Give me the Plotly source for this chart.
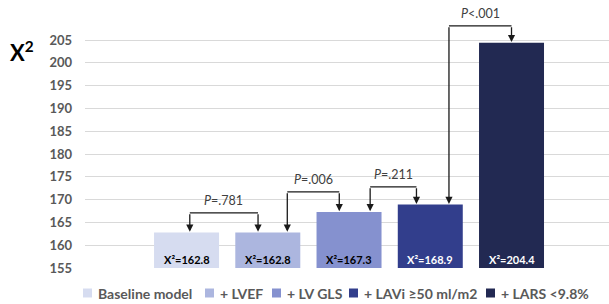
import plotly.graph_objects as go

# ---------------- data ----------------
categories = ["Baseline model", "+ LVEF", "+ LV GLS", "+ LAVi ≥50 ml/m2", "+ LARS <9.8%"]
chi2_values = [162.8, 162.8, 167.3, 168.9, 204.4]
y_ticks = [155, 160, 165, 170, 175, 180, 185, 190, 195, 200, 205]
# comparisons: (from bar index, to bar index, p-value label)
comp_from = [0, 1, 2, 3]
comp_to = [1, 2, 3, 4]
comp_labels = ["<i>P</i>=.781", "<i>P</i>=.006", "<i>P</i>=.211", "<i>P</i><.001"]

# ---------------- style ----------------
bar_colors = ["#d6dcf0", "#acb6df", "#8591cf", "#323e8c", "#222952"]
label_colors = ["#000000", "#000000", "#000000", "#ffffff", "#ffffff"]
FONT = "Lato, 'Open Sans', sans-serif"
GRAY = "#595959"

# bracket geometry (offsets relative to bar centres, bracket heights in y units)
from_off = [0.04, 0.24, 0.26, 0.23]
to_off = [-0.12, -0.12, -0.17, 0.0]
bracket_level = [167.1, 171.7, 172.8, 208.1]

# legend positions (pixels in the 609x304 canvas)
leg_px = [83, 205, 272, 349, 486]
leg_py = 293

W, H = 609, 304
ML, MR, MT, MB = 85, 0, 0, 36
pw, ph = W - ML - MR, H - MT - MB

def px2paper_x(px):
    return (px - ML) / pw

def py2paper_y(py):
    return (H - MB - py) / ph

xpos = list(range(len(categories)))
ymin = 155

fig = go.Figure()
for i, cat in enumerate(categories):
    fig.add_trace(go.Bar(
        x=[xpos[i]], y=[chi2_values[i]], name=cat,
        marker=dict(color=bar_colors[i], line=dict(width=0)),
        width=0.8,
        showlegend=False,
        hovertemplate=cat + ": χ²=%{y:.1f}<extra></extra>",
    ))

shapes = []
annotations = []

# value labels at the bottom of each bar
for i, v in enumerate(chi2_values):
    annotations.append(dict(
        x=xpos[i], y=ymin, xref="x", yref="y", yanchor="bottom", yshift=0,
        text=f"X²={v:.1f}", showarrow=False,
        font=dict(family=FONT, size=11, color=label_colors[i], weight="bold")))

for k in range(len(comp_from)):
    a, b = comp_from[k], comp_to[k]
    xa = xpos[a] + from_off[k]
    xb = xpos[b] + to_off[k]
    lvl = bracket_level[k]
    shapes.append(dict(type="line", xref="x", yref="y", x0=xa, x1=xb, y0=lvl, y1=lvl,
                       line=dict(color="#1a1a1a", width=1.3)))
    for xx, top in [(xa, chi2_values[a]), (xb, chi2_values[b])]:
        annotations.append(dict(
            x=xx, y=top + 0.15, ax=xx, ay=lvl, xref="x", yref="y", axref="x", ayref="y",
            showarrow=True, arrowhead=2, arrowsize=1.1, arrowwidth=1.3,
            arrowcolor="#1a1a1a", standoff=0, text=""))
    annotations.append(dict(
        x=(xa + xb) / 2, y=lvl, xref="x", yref="y", yanchor="bottom", yshift=3,
        text=comp_labels[k], showarrow=False,
        font=dict(family=FONT, size=12.5, color="#404040")))

# axis title
annotations.append(dict(
    x=px2paper_x(8), y=py2paper_y(51), xref="paper", yref="paper",
    xanchor="left", yanchor="middle", showarrow=False,
    text="<b>X<sup>2</sup></b>", font=dict(family=FONT, size=22, color="#000000")))

# legend (manual, Excel-like)
for i, cat in enumerate(categories):
    shapes.append(dict(type="rect", xref="paper", yref="paper",
                       x0=px2paper_x(leg_px[i]), x1=px2paper_x(leg_px[i] + 9),
                       y0=py2paper_y(leg_py + 4.5), y1=py2paper_y(leg_py - 4.5),
                       fillcolor=bar_colors[i], line=dict(width=0)))
    annotations.append(dict(
        x=px2paper_x(leg_px[i] + 13), y=py2paper_y(leg_py), xref="paper", yref="paper",
        xanchor="left", yanchor="middle", showarrow=False, text=cat,
        font=dict(family=FONT, size=14, color=GRAY, weight="bold")))

yrange_top = ymin + (H - MB - MT) / 4.56

fig.update_layout(
    width=W, height=H,
    margin=dict(l=ML, r=MR, t=MT, b=MB),
    paper_bgcolor="white", plot_bgcolor="white",
    barmode="overlay",
    showlegend=False,
    shapes=shapes,
    annotations=annotations,
    xaxis=dict(range=[-1.25, 5.2], showticklabels=False, showgrid=False,
               zeroline=False, showline=False, ticks=""),
    yaxis=dict(range=[ymin, yrange_top], tickvals=y_ticks, showgrid=True,
               gridcolor="#d9d9d9", gridwidth=1, zeroline=False, showline=False,
               ticks="", ticklabelstandoff=12,
               tickfont=dict(family=FONT, size=13, color=GRAY, weight="bold")),
)

fig.write_html("out.html",
               config={"displayModeBar": False},
               post_script="document.body.style.margin='0';document.body.style.overflow='hidden';")
